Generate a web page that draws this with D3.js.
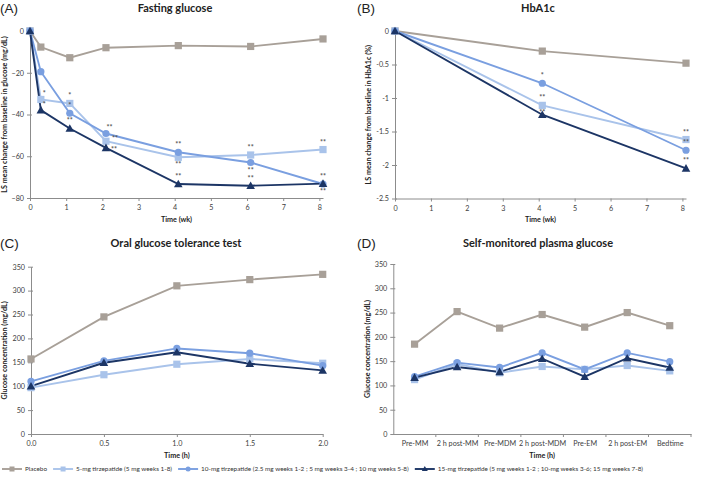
<!DOCTYPE html>
<html><head><meta charset="utf-8">
<script src="https://cdn.jsdelivr.net/npm/d3@7"></script>
<style>
body{margin:0;background:#fff;}
text{font-family:Lato,"Open Sans",sans-serif;}
</style></head>
<body><svg id="c" width="709" height="480"></svg>
<script>
// ---------- DATA ----------
const seriesNames = ["Placebo","5-mg tirzepatide (5 mg weeks 1-8)","10-mg tirzepatide (2.5 mg weeks 1-2 ; 5 mg weeks 3-4 ; 10 mg weeks 5-8)","15-mg tirzepatide (5 mg weeks 1-2 ; 10-mg weeks 3-6; 15 mg weeks 7-8)"];
const seriesColors = ["#a8a098","#a9c3ea","#7a9fe0","#1c3565"];
const seriesShapes = ["square","square","circle","triangle"];

const weeksA = [0, 0.3, 1.1, 2.1, 4.1, 6.1, 8.1];
const fpgPlacebo = [0, -7.7, -12.8, -8, -7, -7.4, -3.8];
const fpg5 = [0, -32.8, -34.7, -52.8, -60.5, -59.4, -56.8];
const fpg10 = [0, -19.5, -39.4, -49.1, -58.1, -63, -73.3];
const fpg15 = [0, -37.9, -46.7, -56, -73.3, -74.1, -73.1];
const ticksA = [0, -20, -40, -60, -80];

const weeksB = [0, 4.1, 8.1];
const hba1cPlacebo = [0, -0.30, -0.48];
const hba1c5 = [0, -1.11, -1.62];
const hba1c10 = [0, -0.78, -1.78];
const hba1c15 = [0, -1.25, -2.05];
const ticksB = [0, -0.5, -1, -1.5, -2, -2.5];

const weekTicks = [0,1,2,3,4,5,6,7,8];

const hoursC = [0, 0.5, 1, 1.5, 2];
const ogttPlacebo = [157, 245, 310, 323, 334];
const ogtt5 = [97, 124, 146, 157, 148];
const ogtt10 = [110, 153, 179, 169, 143];
const ogtt15 = [100, 149, 171, 147, 133];

const smpgCats = ["Pre-MM","2 h post-MM","Pre-MDM","2 h post-MDM","Pre-EM","2 h post-EM","Bedtime"];
const smpgPlacebo = [185, 252, 218, 246, 220, 250, 223];
const smpg5 = [112, 144, 126, 139, 133, 141, 130];
const smpg10 = [118, 147, 137, 167, 133, 167, 149];
const smpg15 = [116, 138, 128, 155, 118, 156, 137];
const glucoseTicks = [0,50,100,150,200,250,300,350];

// significance marks: [series index, point index, label, placement]
const starsA = [[1,1,"*","ar"],[3,1,"*","ar"],[1,2,"*","a"],[2,2,"*","a"],[3,2,"**","a"],
  [2,3,"**","ar"],[1,3,"**","ru"],[3,3,"**","r"],
  [2,4,"**","a"],[1,4,"**","b"],[3,4,"**","a"],
  [1,5,"**","a"],[2,5,"**","b"],[3,5,"**","a"],
  [1,6,"**","a"],[3,6,"**","a"],[2,6,"**","b"]];
const starsB = [[2,1,"*","a"],[1,1,"**","a"],[1,1,"**","b"],[1,2,"**","a"],[2,2,"**","a"],[3,2,"**","a"]];

// ---------- DRAW ----------
const svg = d3.select("#c");
svg.append("rect").attr("width",709).attr("height",480).attr("fill","#fff");
const axisColor = "#8c8c8c", tickText = "#404040";

function marker(g, shape, x, y, color){
  if(shape==="square") g.append("rect").attr("x",x-3.6).attr("y",y-3.6).attr("width",7.2).attr("height",7.2).attr("fill",color);
  else if(shape==="circle") g.append("circle").attr("cx",x).attr("cy",y).attr("r",3.6).attr("fill",color);
  else g.append("path").attr("d",`M${x},${y-4.3}L${x+4.3},${y+3.3}L${x-4.3},${y+3.3}Z`).attr("fill",color);
}

function styleAxis(g){
  g.select(".domain").attr("stroke",axisColor).attr("stroke-width",1);
  g.selectAll(".tick line").attr("stroke",axisColor);
  g.selectAll(".tick text").attr("fill",tickText).attr("font-size",7.2).style("font-family","Lato");
}

function panel(o){
  const g = svg.append("g");
  g.append("text").attr("x",o.lx).attr("y",o.ly).text(o.letter).attr("font-size",13.5).style("font-family","Liberation Sans").attr("fill","#222");
  g.append("text").attr("x",o.tx).attr("y",o.ty).attr("text-anchor","middle").attr("font-weight","bold").attr("font-size",11).attr("fill","#222").text(o.title);
  const yAx = g.append("g").attr("transform",`translate(${o.x0},0)`).call(d3.axisLeft(o.y).tickValues(o.yTicks).tickSize(3).tickSizeOuter(0).tickFormat(o.yFmt));
  styleAxis(yAx);
  yAx.selectAll(".tick line").attr("x1",2);
  yAx.selectAll(".tick text").attr("x",-6);
  const xAx = g.append("g").attr("transform",`translate(0,${o.y0})`).call((o.xAxis).tickSize(o.band?0:3).tickSizeOuter(0));
  styleAxis(xAx);
  xAx.selectAll(".tick text").attr("y",7);
  if(o.band){
    o.band.domain().forEach((c,i)=>{
      const bx = o.band(c) + o.band.bandwidth();
      g.append("line").attr("x1",bx).attr("x2",bx).attr("y1",o.y0).attr("y2",o.y0+3).attr("stroke",axisColor);
    });
  }
  g.append("text").attr("x",(o.x0+o.x1)/2).attr("y",o.xty).attr("text-anchor","middle").attr("font-weight","bold").attr("font-size",7.2).attr("fill","#222").text(o.xTitle);
  g.append("text").attr("transform",`translate(${o.ytx},${(o.yTop+o.y0)/2}) rotate(-90)`).attr("text-anchor","middle").attr("font-weight","bold").attr("font-size",7.2).attr("fill","#222").text(o.yTitle);
  o.series.forEach((vals,si)=>{
    const pts = o.xs.map((xv,i)=>[o.xf(xv), o.y(vals[i])]);
    g.append("path").attr("d",d3.line()(pts)).attr("fill","none").attr("stroke",seriesColors[si]).attr("stroke-width",1.9);
  });
  o.series.forEach((vals,si)=>{
    o.xs.forEach((xv,i)=>marker(g, seriesShapes[si], o.xf(xv), o.y(vals[i]), seriesColors[si]));
  });
  (o.stars||[]).forEach(([si,pi,lab,pl])=>{
    const px = o.xf(o.xs[pi]), py = o.y(o.series[si][pi]);
    let dx=0, dy=0;
    if(pl==="a"){dy=-5;} else if(pl==="b"){dy=10;} else if(pl==="r"){dx=8; dy=4;} else if(pl==="ru"){dx=9; dy=-0.5;} else if(pl==="ar"){dx=3.5; dy=-3;}
    g.append("text").attr("x",px+dx).attr("y",py+dy).attr("text-anchor","middle").attr("font-size",7.2).attr("font-weight","bold").attr("fill","#555").text(lab);
  });
}

// Panel A
const xA = d3.scaleLinear().domain([0,8.1]).range([30,323]);
const yA = d3.scaleLinear().domain([-80,0]).range([198,31]);
panel({letter:"(A)",lx:0,ly:13,title:"Fasting glucose",tx:175,ty:12,x0:30,x1:323,y0:198,yTop:31,y:yA,yTicks:ticksA,yFmt:d3.format("d"),
  xAxis:d3.axisBottom(xA).tickValues(weekTicks).tickFormat(d3.format("d")),xf:xA,xs:weeksA,xTitle:"Time (wk)",xty:222,
  yTitle:"LS mean change from baseline in glucose (mg/dL)",ytx:7,series:[fpgPlacebo,fpg5,fpg10,fpg15],stars:starsA});

// Panel B
const xB = d3.scaleLinear().domain([0,8.1]).range([395,686]);
const yB = d3.scaleLinear().domain([-2.5,0]).range([198.5,31]);
panel({letter:"(B)",lx:357,ly:13,title:"HbA1c",tx:538,ty:12,x0:395,x1:686,y0:198.5,yTop:31,y:yB,yTicks:ticksB,yFmt:d=>String(d),
  xAxis:d3.axisBottom(xB).tickValues(weekTicks).tickFormat(d3.format("d")),xf:xB,xs:weeksB,xTitle:"Time (wk)",xty:222,
  yTitle:"LS mean change from baseline in HbA1c (%)",ytx:371,series:[hba1cPlacebo,hba1c5,hba1c10,hba1c15],stars:starsB});

// Panel C
const xC = d3.scaleLinear().domain([0,2]).range([31,322.7]);
const yC = d3.scaleLinear().domain([0,350]).range([434,266.7]);
panel({letter:"(C)",lx:0,ly:248,title:"Oral glucose tolerance test",tx:176,ty:247,x0:31,x1:322.7,y0:434,yTop:266.7,y:yC,yTicks:glucoseTicks,yFmt:d3.format("d"),
  xAxis:d3.axisBottom(xC).tickValues(hoursC).tickFormat(d3.format(".1f")),xf:xC,xs:hoursC,xTitle:"Time (h)",xty:458,
  yTitle:"Glucose concentration (mg/dL)",ytx:7,series:[ogttPlacebo,ogtt5,ogtt10,ogtt15]});

// Panel D
const xD = d3.scalePoint().domain(smpgCats).range([393.3,691]).padding(0.5);
const yD = d3.scaleLinear().domain([0,350]).range([434,264]);
const xDband = d3.scaleBand().domain(smpgCats).range([393.3,691]);
panel({letter:"(D)",lx:357,ly:248,title:"Self-monitored plasma glucose",tx:538,ty:247,x0:393.3,x1:691,y0:434,yTop:264,y:yD,yTicks:glucoseTicks,yFmt:d3.format("d"),
  xAxis:d3.axisBottom(xD),band:xDband,xf:xD,xs:smpgCats,xTitle:"Time (h)",xty:458,
  yTitle:"Glucose concentration (mg/dL)",ytx:370,series:[smpgPlacebo,smpg5,smpg10,smpg15]});

// Legend
const leg = svg.append("g");
let lx = 2;
seriesNames.forEach((nm,i)=>{
  const ly = 469;
  leg.append("line").attr("x1",lx).attr("x2",lx+20).attr("y1",ly).attr("y2",ly).attr("stroke",seriesColors[i]).attr("stroke-width",1.9);
  if(seriesShapes[i]==="square") leg.append("rect").attr("x",lx+7.5).attr("y",ly-2.5).attr("width",5).attr("height",5).attr("fill",seriesColors[i]);
  else if(seriesShapes[i]==="circle") leg.append("circle").attr("cx",lx+10).attr("cy",ly).attr("r",2.5).attr("fill",seriesColors[i]);
  else leg.append("path").attr("d",`M${lx+10},${ly-3}L${lx+13},${ly+2}L${lx+7},${ly+2}Z`).attr("fill",seriesColors[i]);
  const t = leg.append("text").attr("x",lx+23).attr("y",ly+2.4).attr("font-size",6.4).attr("fill","#333").text(nm);
  lx += 23 + t.node().getComputedTextLength() + 6;
});
</script></body></html>
